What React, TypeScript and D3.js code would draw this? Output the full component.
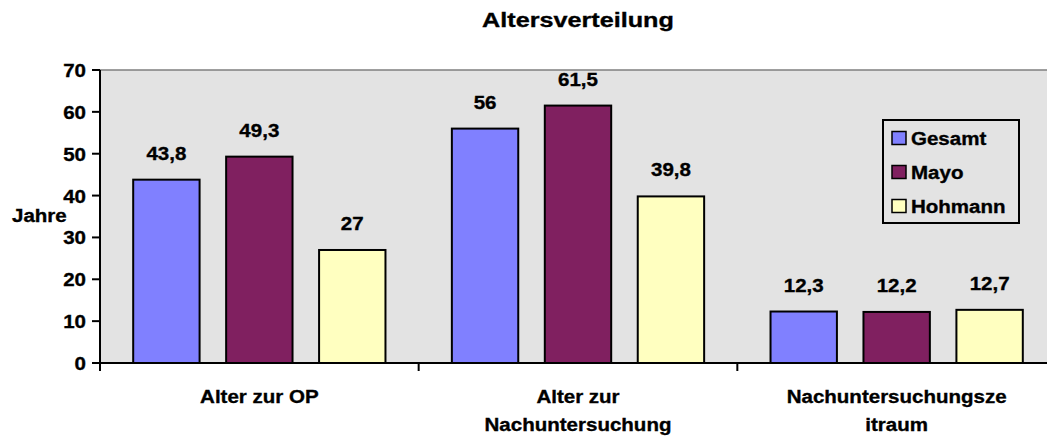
import React from "react";
import * as d3 from "d3";

const categories: string[][] = [
  ["Alter zur OP"],
  ["Alter zur", "Nachuntersuchung"],
  ["Nachuntersuchungsze", "itraum"],
];
const seriesNames = ["Gesamt", "Mayo", "Hohmann"];
const seriesColors = ["#8080ff", "#802060", "#ffffc0"];
const gesamt = [43.8, 56, 12.3];
const mayo = [49.3, 61.5, 12.2];
const hohmann = [27, 39.8, 12.7];
const yTicks = [0, 10, 20, 30, 40, 50, 60, 70];

const W = 1047;
const H = 436;
const plot = { left: 100, right: 1056, top: 70, bottom: 363 };
const FONT = "Liberation Sans, Arial, Helvetica, sans-serif";
const FS = 19;
const SX = 1.08;

function fmt(v: number) {
  return String(v).replace(".", ",");
}

function SText(props: {
  x: number;
  y: number;
  size?: number;
  sx?: number;
  anchor?: "start" | "middle" | "end";
  children: React.ReactNode;
}) {
  const { x, y, size = FS, sx = SX, anchor = "middle", children } = props;
  return (
    <text
      transform={`translate(${x},${y}) scale(${sx},1)`}
      fontFamily={FONT}
      fontWeight="bold"
      fontSize={size}
      textAnchor={anchor}
      fill="#000"
      stroke="#000"
      strokeWidth={0.35}
    >
      {children}
    </text>
  );
}

export default function App() {
  const series = [gesamt, mayo, hohmann];
  const x0 = d3
    .scaleBand<number>()
    .domain(d3.range(categories.length))
    .range([plot.left, plot.right])
    .paddingInner(0)
    .paddingOuter(0);
  const y = d3.scaleLinear().domain([0, 70]).range([plot.bottom, plot.top]);
  const bw = x0.bandwidth();
  // gap width 100%, overlap -40%
  const barW = bw / 4.8;
  const step = barW * 1.4;
  const barX = (ci: number, si: number) => (x0(ci) as number) + barW * 0.5 + si * step;

  const legend = { x: 883, y: 120, w: 136, h: 103 };

  return (
    <svg
      width={W}
      height={H}
      style={{ position: "absolute", left: 0, top: 0, background: "#fff" }}
    >
      <rect x={plot.left} y={plot.top} width={plot.right - plot.left} height={plot.bottom - plot.top} fill="#e3e3e3" stroke="#808080" strokeWidth={1.5} />

      <SText x={(plot.left + plot.right) / 2} y={27} size={21} sx={1.2}>Altersverteilung</SText>

      {series.map((vals, si) =>
        vals.map((v, ci) => (
          <g key={`${si}-${ci}`}>
            <rect
              x={barX(ci, si)}
              y={y(v)}
              width={barW}
              height={y(0) - y(v)}
              fill={seriesColors[si]}
              stroke="#000"
              strokeWidth={2}
            />
            <SText x={barX(ci, si) + barW / 2} y={y(v) - 20}>{fmt(v)}</SText>
          </g>
        ))
      )}

      {/* y axis */}
      <line x1={plot.left} x2={plot.left} y1={plot.top} y2={plot.bottom + 8} stroke="#000" strokeWidth={2} />
      {yTicks.map((t) => (
        <g key={t}>
          <line x1={plot.left - 8} x2={plot.left} y1={y(t)} y2={y(t)} stroke="#000" strokeWidth={2} />
          <SText x={86} y={y(t) + 7} anchor="end">{t}</SText>
        </g>
      ))}
      <SText x={12} y={222} anchor="start">Jahre</SText>

      {/* x axis */}
      <line x1={plot.left} x2={plot.right} y1={plot.bottom} y2={plot.bottom} stroke="#000" strokeWidth={2} />
      {d3.range(categories.length + 1).map((i) => {
        const xx = plot.left + i * bw;
        return <line key={i} x1={xx} x2={xx} y1={plot.bottom} y2={plot.bottom + 8} stroke="#000" strokeWidth={2} />;
      })}
      {categories.map((lines, ci) => (
        <g key={ci}>
          {lines.map((ln, li) => (
            <SText key={li} x={(x0(ci) as number) + bw / 2} y={403 + li * 28}>{ln}</SText>
          ))}
        </g>
      ))}

      {/* legend */}
      <rect x={legend.x} y={legend.y} width={legend.w} height={legend.h} fill="#e3e3e3" stroke="#000" strokeWidth={2} />
      {seriesNames.map((name, i) => {
        const cy = 138 + i * 34;
        return (
          <g key={name}>
            <rect x={892} y={cy - 6.5} width={14} height={13} fill={seriesColors[i]} stroke="#000" strokeWidth={1.5} />
            <SText x={911} y={cy + 7} anchor="start">{name}</SText>
          </g>
        );
      })}
    </svg>
  );
}
